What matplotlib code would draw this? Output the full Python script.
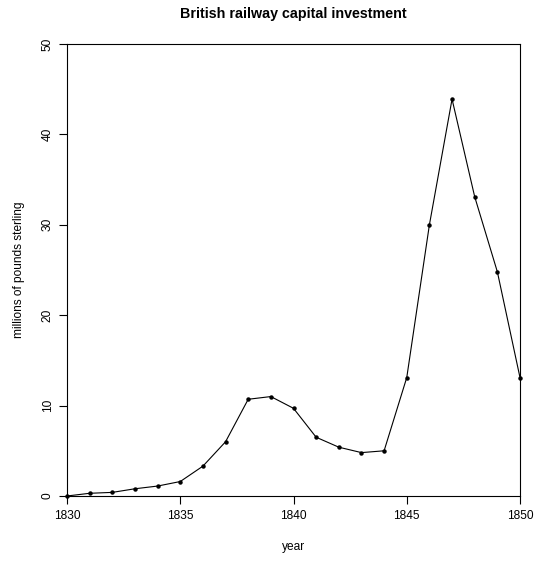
import matplotlib
matplotlib.use("Agg")
import matplotlib.pyplot as plt

years = list(range(1830, 1851))
investment = [0.0, 0.3, 0.4, 0.8, 1.1, 1.6, 3.3, 6.0, 10.7, 11.0, 9.7,
              6.5, 5.4, 4.8, 5.0, 13.1, 30.0, 43.9, 33.1, 24.8, 13.1]
xticks = [1830, 1835, 1840, 1845, 1850]
yticks = [0, 10, 20, 30, 40, 50]

plt.rcParams['font.family'] = ['Liberation Sans', 'DejaVu Sans']

fig = plt.figure(figsize=(5.35, 5.61), dpi=100)
ax = fig.add_axes([67/535, 1 - 496/561, (520 - 67)/535, (496 - 44)/561])
ax.plot(years, investment, color='black', linewidth=0.8, marker='o',
        markersize=2.2, markerfacecolor='black', markeredgecolor='black',
        clip_on=False)
ax.set_xlim(1830, 1850)
ax.set_ylim(0, 50)
ax.set_xticks(xticks)
ax.set_yticks(yticks)
ax.set_xticklabels([str(t) for t in xticks])
ax.set_yticklabels([str(t) for t in yticks], rotation=90, va='center')
ax.tick_params(direction='out', length=5.5, width=0.8, labelsize=8.6, pad=4.5)
ax.tick_params(axis='y', pad=4)
for s in ax.spines.values():
    s.set_linewidth(0.8)
ax.set_xlabel('year', fontsize=8.6, labelpad=14)
ax.set_ylabel('millions of pounds sterling', fontsize=8.6, labelpad=12)
fig.text((67 + 520) / 2 / 535, 1 - 14/561, 'British railway capital investment',
         ha='center', va='center', fontsize=10.3, fontweight='bold')
fig.savefig('out.png', dpi=100)
